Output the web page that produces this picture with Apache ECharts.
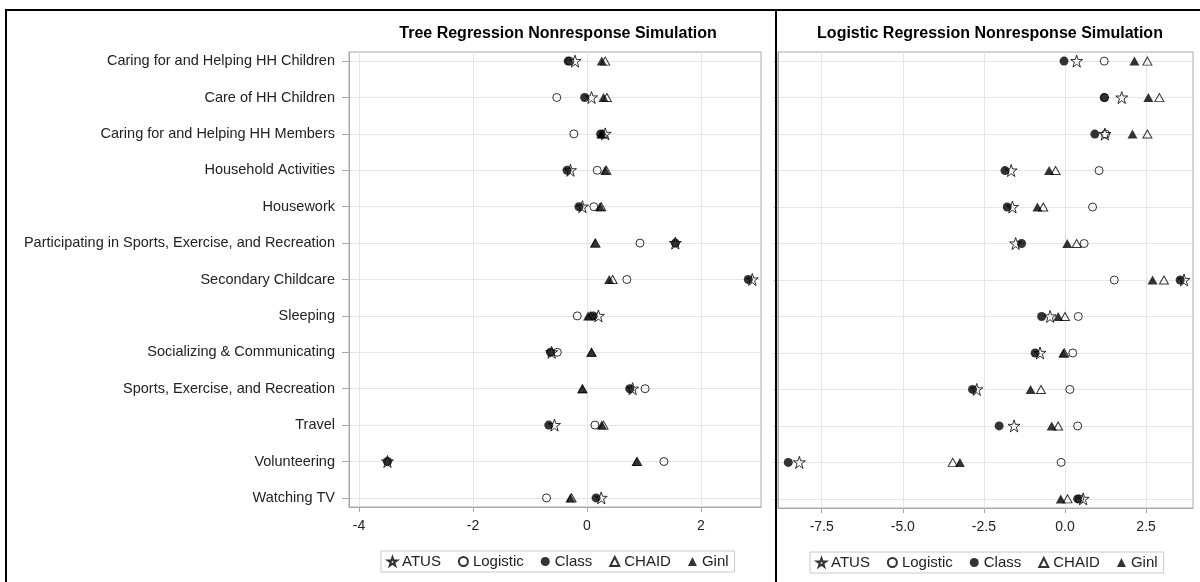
<!DOCTYPE html>
<html><head><meta charset="utf-8">
<script src="https://cdn.jsdelivr.net/npm/echarts@6/dist/echarts.min.js"></script>
<style>html,body{margin:0;padding:0;background:#fff}#c{width:1200px;height:582px}</style>
</head><body><div id="c"></div>
<script>
const categories = ["Caring for and Helping HH Children","Care of HH Children","Caring for and Helping HH Members","Household Activities","Housework","Participating in Sports, Exercise, and Recreation","Secondary Childcare","Sleeping","Socializing & Communicating","Sports, Exercise, and Recreation","Travel","Volunteering","Watching TV"];
const seriesNames = ["ATUS","Logistic","Class","CHAID","Ginl"];
const leftTicks = [-4,-2,0,2];
const rightTicks = [-7.5,-5,-2.5,0,2.5];
// Tree Regression Nonresponse Simulation
const treeATUS     = [-0.21, 0.08, 0.32,-0.29,-0.08, 1.55, 2.90, 0.20,-0.62, 0.80,-0.57,-3.50, 0.25];
const treeLogistic = [-0.30,-0.53,-0.23, 0.18, 0.12, 0.93, 0.70,-0.17,-0.52, 1.02, 0.14, 1.35,-0.71];
const treeClass    = [-0.33,-0.04, 0.24,-0.35,-0.14, 1.55, 2.83, 0.11,-0.64, 0.75,-0.67,-3.50, 0.16];
const treeCHAID    = [ 0.32, 0.35, 0.28, 0.34, 0.25, 0.15, 0.45, 0.06, 0.08,-0.08, 0.29, 0.88,-0.27];
const treeGini     = [ 0.26, 0.29, 0.25, 0.32, 0.23, 0.14, 0.39, 0.02, 0.08,-0.08, 0.26, 0.87,-0.29];
// Logistic Regression Nonresponse Simulation
const logATUS      = [ 0.36, 1.75, 1.23,-1.66,-1.62,-1.52, 3.67,-0.46,-0.77,-2.72,-1.57,-8.19, 0.56];
const logLogistic  = [ 1.21, 1.22, 1.25, 1.05, 0.85, 0.59, 1.52, 0.41, 0.24, 0.15, 0.39,-0.12, 0.45];
const logClass     = [-0.03, 1.21, 0.92,-1.85,-1.78,-1.34, 3.55,-0.72,-0.92,-2.85,-2.03,-8.53, 0.39];
const logCHAID     = [ 2.54, 2.91, 2.54,-0.29,-0.67, 0.36, 3.05, 0.00,-0.02,-0.74,-0.21,-3.46, 0.08];
const logGini      = [ 2.14, 2.57, 2.08,-0.49,-0.85, 0.07, 2.70,-0.21,-0.05,-1.06,-0.41,-3.24,-0.13];

const STAR = 'path://M50,0 L61.8,35.1 L100,35.1 L69.1,57.3 L80.9,95.1 L50,72.7 L19.1,95.1 L30.9,57.3 L0,35.1 L38.2,35.1 Z';
const styles = {
  ATUS:     {symbol: STAR, symbolSize: 12, itemStyle: {color: 'rgba(255,255,255,0)', borderColor: '#000', borderWidth: 1}},
  Logistic: {symbol: 'circle', symbolSize: 8, itemStyle: {color: 'rgba(255,255,255,0)', borderColor: '#000', borderWidth: 1}},
  Class:    {symbol: 'circle', symbolSize: 9, itemStyle: {color: '#000', borderColor: '#000', borderWidth: 0}},
  CHAID:    {symbol: 'triangle', symbolSize: [9, 8], itemStyle: {color: 'rgba(255,255,255,0)', borderColor: '#000', borderWidth: 1}},
  Ginl:     {symbol: 'triangle', symbolSize: [10, 9], itemStyle: {color: '#000', borderColor: '#000', borderWidth: 0}}
};
const treeData = [treeATUS, treeLogistic, treeClass, treeCHAID, treeGini];
const logData = [logATUS, logLogistic, logClass, logCHAID, logGini];
const idx = categories.map((c, i) => i);
const FONT = '"Liberation Sans", Arial, sans-serif';

function mk(name, vals, gi) {
  return Object.assign({
    name: name, type: 'scatter', xAxisIndex: gi, yAxisIndex: gi,
    data: vals.map((v, i) => [v, i]),
    emphasis: {disabled: true}, animation: false
  }, JSON.parse(JSON.stringify(styles[name])));
}
const series = [];
seriesNames.forEach((n, k) => series.push(mk(n, treeData[k], 0)));
seriesNames.forEach((n, k) => series.push(mk(n, logData[k], 1)));

function xAxis(gi, min, max, ticks, fmt) {
  return {
    type: 'value', gridIndex: gi, min: min, max: max,
    axisLine: {show: true, onZero: false, lineStyle: {color: '#a8a8a8'}},
    axisTick: {show: true, customValues: ticks, length: 5, lineStyle: {color: '#a8a8a8'}},
    axisLabel: {customValues: ticks, formatter: fmt, color: '#222', fontSize: 14, fontFamily: FONT, margin: 12},
    splitLine: {show: true, lineStyle: {color: '#e6e6e6'}}
  };
}
function yAxis(gi, showLabels, tickLen) {
  return {
    type: 'value', gridIndex: gi, inverse: true, min: -0.25, max: 12.25,
    axisLine: {show: true, onZero: false, lineStyle: {color: '#a8a8a8'}},
    axisTick: {show: true, customValues: idx, length: tickLen, lineStyle: {color: '#a8a8a8'}},
    axisLabel: {show: showLabels, customValues: idx, formatter: v => categories[Math.round(v)] || '', color: '#222', fontSize: 14.5, fontFamily: FONT, margin: 14},
    splitLine: {show: true, lineStyle: {color: '#e6e6e6'}}
  };
}
const legendBase = {
  data: seriesNames, orient: 'horizontal', itemWidth: 9, itemHeight: 9, itemGap: 17,
  borderColor: '#c8c8c8', borderWidth: 1, padding: [3, 6, 3, 6],
  textStyle: {fontSize: 15, color: '#222', fontFamily: FONT}, selectedMode: false
};
const option = {
  animation: false,
  backgroundColor: '#fff',
  title: [
    {text: 'Tree Regression Nonresponse Simulation', left: 553, top: 21, textAlign: 'center',
     textStyle: {fontSize: 16, fontWeight: 'bold', color: '#000', fontFamily: FONT}},
    {text: 'Logistic Regression Nonresponse Simulation', left: 985, top: 21, textAlign: 'center',
     textStyle: {fontSize: 16, fontWeight: 'bold', color: '#000', fontFamily: FONT}}
  ],
  grid: [
    {left: 349, top: 52, width: 412, height: 455, show: true, borderColor: '#a8a8a8', borderWidth: 1, backgroundColor: 'transparent'},
    {left: 778, top: 52, width: 415, height: 456, show: true, borderColor: '#a8a8a8', borderWidth: 1, backgroundColor: 'transparent'}
  ],
  xAxis: [
    xAxis(0, -4.175, 3.053, leftTicks, v => String(v)),
    xAxis(1, -8.847, 3.946, rightTicks, v => v.toFixed(1))
  ],
  yAxis: [yAxis(0, true, 7), yAxis(1, false, 4)],
  legend: [
    Object.assign({left: 381, top: 551}, legendBase),
    Object.assign({left: 810, top: 552}, legendBase)
  ],
  series: series,
  graphic: [
    {type: 'rect', silent: true, z: 100, shape: {x: 6, y: 10, width: 1200, height: 600},
     style: {fill: 'none', stroke: '#000', lineWidth: 2}},
    {type: 'line', silent: true, z: 100, shape: {x1: 776, y1: 10, x2: 776, y2: 600},
     style: {stroke: '#000', lineWidth: 2}}
  ]
};
const chart = echarts.init(document.getElementById('c'), null, {renderer: 'canvas'});
chart.setOption(option);
</script>
</body></html>
